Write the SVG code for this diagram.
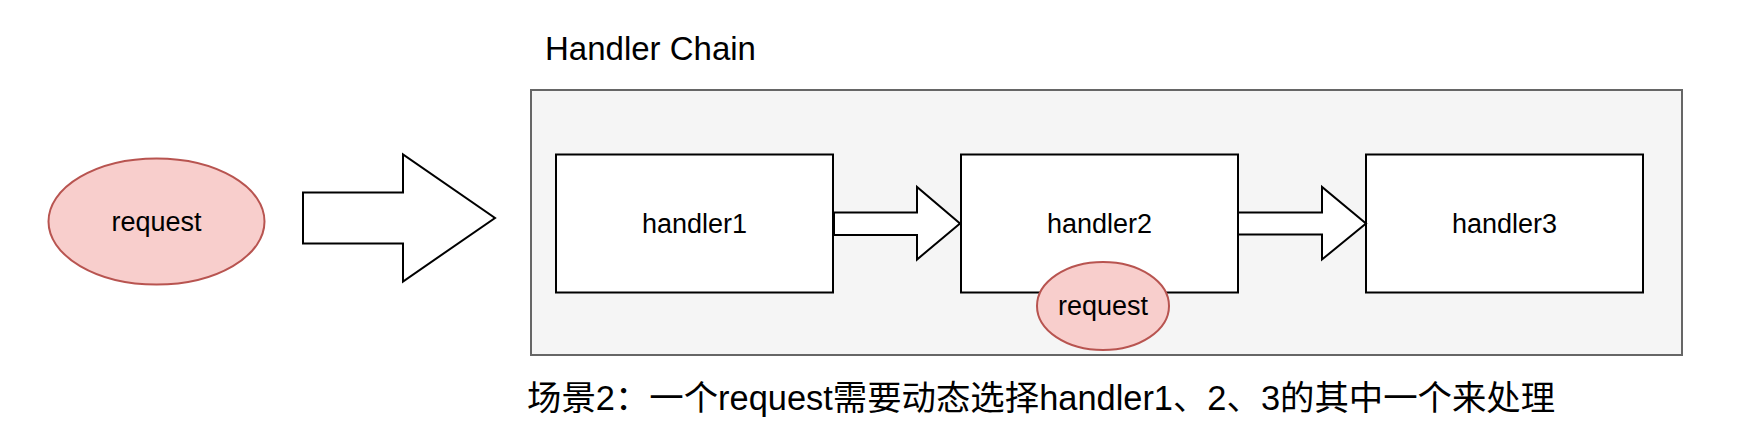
<svg xmlns="http://www.w3.org/2000/svg" width="1742" height="442" viewBox="0 0 1742 442">
<style>
.t{font-family:"Liberation Sans","Noto Sans CJK SC",Arial,sans-serif;fill:#000}
.lbl{font-size:27px;text-anchor:middle}
.box{fill:#fff;stroke:#000;stroke-width:2}
.req{fill:#f8cecc;stroke:#b85450;stroke-width:2}
.arr{fill:#fff;stroke:#000;stroke-width:2;stroke-linejoin:miter}
</style>
<rect width="1742" height="442" fill="#fff"/>
<g id="container">
<rect x="531" y="90" width="1151" height="265" fill="#f5f5f5" stroke="#666" stroke-width="2"/>
<text class="t" x="545" y="60" font-size="33">Handler Chain</text>
</g>
<g id="request1">
<ellipse class="req" cx="156.5" cy="221.5" rx="108" ry="63"/>
<text class="t lbl" x="156.5" y="231">request</text>
</g>
<g id="handler1">
<rect class="box" x="556" y="154.5" width="277" height="138"/>
<text class="t lbl" x="694.5" y="232.5">handler1</text>
</g>
<g id="handler2">
<rect class="box" x="961" y="154.5" width="277" height="138"/>
<text class="t lbl" x="1099.5" y="232.5">handler2</text>
</g>
<g id="handler3">
<rect class="box" x="1366" y="154.5" width="277" height="138"/>
<text class="t lbl" x="1504.5" y="232.5">handler3</text>
</g>
<g id="request2">
<ellipse class="req" cx="1103" cy="306" rx="66" ry="44"/>
<text class="t lbl" x="1103" y="315">request</text>
</g>
<g id="connectors">
<polygon class="arr" points="303,192.5 403,192.5 403,154.5 495,218 403,281.5 403,243.5 303,243.5"/>
<polygon class="arr" points="834,212.5 917,212.5 917,187 960,223.5 917,259.5 917,235 834,235"/>
<polygon class="arr" points="1238,212.5 1322,212.5 1322,187 1366,223.5 1322,259.5 1322,234.5 1238,234.5"/>
</g>
<g id="caption">
<text class="t" x="527" y="410" font-size="34.4">场景2：一个request需要动态选择handler1、2、3的其中一个来处理</text>
</g>
</svg>
